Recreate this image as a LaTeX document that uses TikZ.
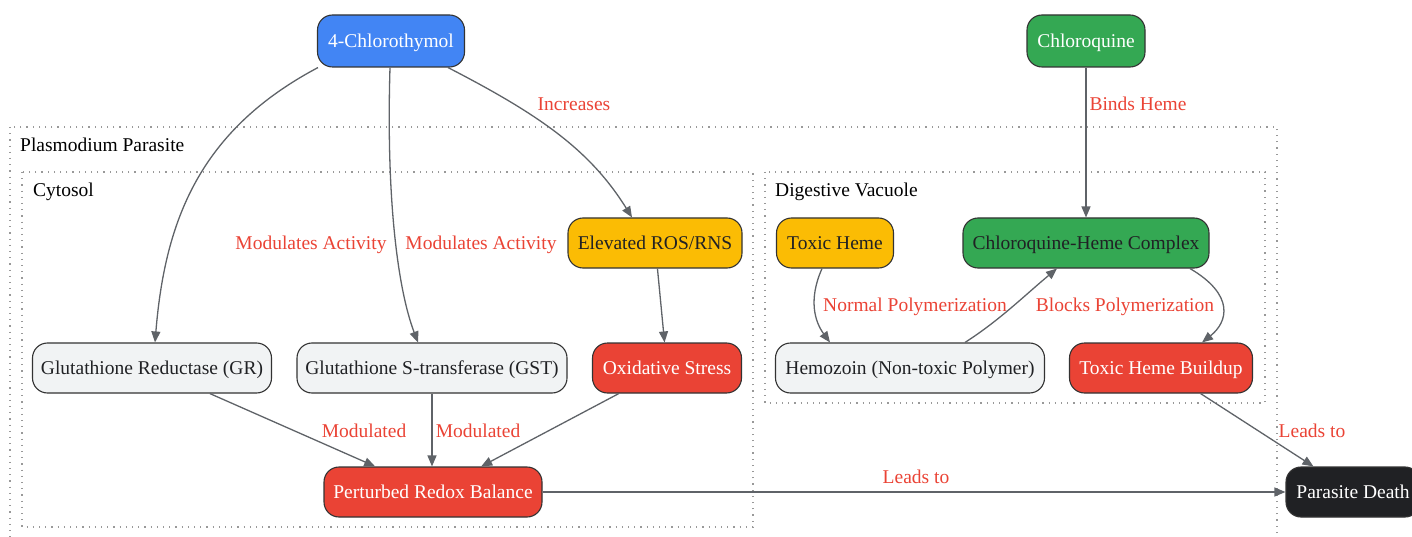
\documentclass[tikz,border=0pt]{standalone}
\usepackage{fontspec}
\setmainfont{Liberation Serif}
\usetikzlibrary{arrows.meta}
\definecolor{cblue}{HTML}{4285F4}
\definecolor{cgreen}{HTML}{34A853}
\definecolor{cyellow}{HTML}{FBBC04}
\definecolor{cred}{HTML}{EA4335}
\definecolor{cgrey}{HTML}{F1F3F4}
\definecolor{cblack}{HTML}{202124}
\definecolor{cedge}{HTML}{5F6368}
\definecolor{cborder}{HTML}{333333}
\tikzset{
  box/.style={draw=cborder, line width=1.1pt, rounded corners=15pt, inner sep=0pt,
    minimum height=50pt, font=\fontsize{19.5}{23}\selectfont, text=cblack,
    text height=17.4pt, text depth=4.2pt},
  wtext/.style={text=white},
  lbl/.style={font=\fontsize{19.5}{23}\selectfont, text=cred, inner sep=0pt,
    text height=17.4pt, text depth=4.2pt},
  clbl/.style={font=\fontsize{19.5}{23}\selectfont, text=black, inner sep=0pt, anchor=west,
    text height=17.4pt, text depth=4.2pt},
  cluster/.style={draw=gray!80, line width=1.1pt, dash pattern=on 1.2pt off 5pt},
  edge/.style={draw=cedge, line width=1.3pt, -{Triangle[length=11pt,width=9pt]}},
}
\begin{document}
\begin{tikzpicture}[x=1pt,y=-1pt]
\useasboundingbox (0,0) rectangle (1412,537);
% clusters
\draw[cluster] (10,127) rectangle (1277,580);
\draw[cluster] (22,172) rectangle (753,527);
\draw[cluster] (765,172) rectangle (1265,403);
\node[clbl] (lpp) at (20,145) {Plasmodium Parasite};
\node[clbl] (lcy) at (33,190) {Cytosol};
\node[clbl] (ldv) at (775,190) {Digestive Vacuole};
% nodes
\node[box, fill=cblue, wtext, minimum width=147pt, minimum height=52pt] (A) at (391,41) {4-Chlorothymol};
\node[box, fill=cgreen, wtext, minimum width=118pt, minimum height=52pt] (C) at (1086,41) {Chloroquine};
\node[box, fill=cyellow, minimum width=174pt] (ROS) at (655,243) {Elevated ROS/RNS};
\node[box, fill=cyellow, minimum width=117pt] (TH) at (835,243) {Toxic Heme};
\node[box, fill=cgreen, minimum width=246pt] (CHC) at (1086,243) {Chloroquine-Heme Complex};
\node[box, fill=cgrey, minimum width=239pt] (GR) at (152,368) {Glutathione Reductase (GR)};
\node[box, fill=cgrey, minimum width=270pt] (GST) at (432,368) {Glutathione S-transferase (GST)};
\node[box, fill=cred, wtext, minimum width=149pt] (OX) at (667,368) {Oxidative Stress};
\node[box, fill=cgrey, minimum width=269pt] (HZ) at (910,368) {Hemozoin (Non-toxic Polymer)};
\node[box, fill=cred, wtext, minimum width=183pt] (THB) at (1161,368) {Toxic Heme Buildup};
\node[box, fill=cred, wtext, minimum width=218pt] (PRB) at (433,492) {Perturbed Redox Balance};
\node[box, fill=cblack, wtext, minimum width=134pt] (PD) at (1353,492) {Parasite Death};
% edges
\draw[edge] ([xshift=-73pt]A.south) .. controls (200,130) and (165,220) .. ([xshift=3pt]GR.north);
\draw[edge] ([xshift=-1pt]A.south) .. controls (386,200) and (398,290) .. ([xshift=-14pt]GST.north);
\draw[edge] ([xshift=57pt]A.south) .. controls (540,115) and (590,150) .. ([xshift=-23pt]ROS.north);
\draw[edge] (C) -- (CHC);
\draw[edge] (ROS) -- (OX);
\draw[edge] ([xshift=-13pt]TH.south) .. controls (808,300) and (815,322) .. ([xshift=-80pt]HZ.north);
\draw[edge] ([xshift=55pt]HZ.north) .. controls (1000,320) and (1025,295) .. ([xshift=-29pt]CHC.south);
\draw[edge] ([xshift=104pt]CHC.south) .. controls (1235,295) and (1228,322) .. ([xshift=41pt]THB.north);
\draw[edge] (GR) -- (PRB);
\draw[edge] (GST.south) -- (GST.south |- PRB.north);
\draw[edge] (OX) -- (PRB);
\draw[edge] (PRB) -- (PD);
\draw[edge] (THB) -- (PD);
% labels
\node[lbl] (l1) at (574,104) {Increases};
\node[lbl] (l2) at (1138,104) {Binds Heme};
\node[lbl] (l3) at (311,243) {Modulates Activity};
\node[lbl] (l4) at (481,243) {Modulates Activity};
\node[lbl] (l5) at (915,305) {Normal Polymerization};
\node[lbl] (l6) at (1125,305) {Blocks Polymerization};
\node[lbl] (l7) at (364,431) {Modulated};
\node[lbl] (l8) at (478,431) {Modulated};
\node[lbl] (l9) at (916,477) {Leads to};
\node[lbl] (l10) at (1312,431) {Leads to};
\end{tikzpicture}
\end{document}
